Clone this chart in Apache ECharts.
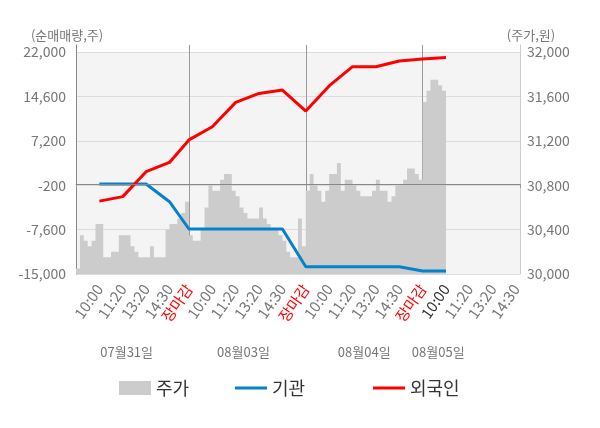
<!DOCTYPE html>
<html>
<head>
<meta charset="utf-8">
<title>순매매량 / 주가</title>
<script src="https://cdn.jsdelivr.net/npm/echarts@6.0.0/dist/echarts.min.js"></script>
<style>
    html, body { margin: 0; padding: 0; background: #fff; }
    #main { width: 600px; height: 428px; }
</style>
</head>
<body>
<div id="main"></div>
<script>
// 일자 / 일자별 슬롯 수 (마지막 슬롯 = 장마감)
var days = ['07월31일', '08월03일', '08월04일', '08월05일'];
var daySlots = [30, 30, 30, 25];
var dateSlots = [13, 43, 74, 93];

// x축 시간 눈금
var tickSlots = [6, 12, 18, 24, 29, 35, 41, 47, 53, 59, 65, 71, 77, 83, 89, 95, 101, 107, 113];
var tickNames = ['10:00', '11:20', '13:20', '14:30', '장마감',
                 '10:00', '11:20', '13:20', '14:30', '장마감',
                 '10:00', '11:20', '13:20', '14:30', '장마감',
                 '10:00', '11:20', '13:20', '14:30'];

// y축 눈금
var leftTicks = [-15000, -7600, -200, 7200, 14600, 22000];
var rightTicks = [30000, 30400, 30800, 31200, 31600, 32000];

// 주가 (원)
var price1 = [30250, 30050, 30350, 30300, 30250, 30300, 30450, 30450, 30150, 30150,
              30200, 30200, 30350, 30350, 30350, 30250, 30200, 30150, 30150, 30150,
              30250, 30150, 30150, 30150, 30400, 30450, 30450, 30500, 30550, 30650];
var price2 = [30350, 30300, 30300, 30400, 30600, 30800, 30750, 30750, 30850, 30900,
              30900, 30750, 30700, 30600, 30550, 30500, 30500, 30500, 30600, 30500,
              30450, 30400, 30400, 30350, 30300, 30200, 30150, 30150, 30500, 30250];
var price3 = [30750, 30900, 30800, 30750, 30650, 30750, 30900, 30900, 31000, 30750,
              30850, 30850, 30800, 30750, 30700, 30700, 30700, 30750, 30850, 30750,
              30750, 30650, 30700, 30800, 30800, 30850, 30950, 30950, 30900, 30850];
var price4 = [31550, 31650, 31750, 31750, 31700, 31650];

// 누적 순매매량 (주) - 시간 눈금 위치별
var flowSlots = [6, 12, 18, 24, 29, 35, 41, 47, 53, 59, 65, 71, 77, 83, 89, 95];
var inst = [0, 0, 0, -2950, -7500, -7500, -7500, -7500, -7500,
            -13800, -13800, -13800, -13800, -13800, -14500, -14500];
var foreign = [-2850, -2100, 2050, 3600, 7350, 9550, 13600, 15100, 15650,
               12150, 16350, 19550, 19550, 20500, 20850, 21100];

var cats = [];
days.forEach(function (d, i) {
    for (var k = 0; k < daySlots[i]; k++) {
        cats.push(d + ' ' + k);
    }
});

var dayEnds = [0];
var acc = 0;
daySlots.forEach(function (n) {
    acc += n;
    dayEnds.push(acc - 1);
});

var price = price1.concat(price2, price3, price4);
var nowSlot = price.length - 1;

function onSlots(vals) {
    var arr = [];
    for (var i = 0; i < cats.length; i++) arr.push(null);
    flowSlots.forEach(function (s, i) { arr[s] = vals[i]; });
    return arr;
}

var labelAt = {};
tickSlots.forEach(function (s, i) { labelAt[s] = tickNames[i]; });

// 위쪽 7px 여백 (세로 구분선이 배경 위로 조금 나옴)
var padPx = 7, plotPx = 222;
var leftMax = 22000 + (22000 + 15000) * padPx / plotPx;
var rightMax = 32000 + (32000 - 30000) * padPx / plotPx;

function fmt(v) {
    return Math.round(v).toLocaleString('en-US');
}

var myChart = echarts.init(document.getElementById('main'));

var option = {
    animation: false,
    textStyle: {
        fontFamily: '"Noto Sans CJK KR", "Noto Sans", sans-serif'
    },
    grid: {
        left: 76,
        right: 80,
        top: 45,
        bottom: 154,
        containLabel: false,
        outerBoundsMode: 'none'
    },
    legend: [
        {data: ['주가'], left: 114, top: 374, icon: 'rect', itemWidth: 32, itemHeight: 14,
            itemStyle: {borderWidth: 0}, selectedMode: false,
            textStyle: {fontSize: 18, color: '#333'}},
        {data: ['기관'], left: 230, top: 374, icon: 'rect', itemWidth: 32, itemHeight: 3,
            itemStyle: {borderWidth: 0}, selectedMode: false,
            textStyle: {fontSize: 18, color: '#333'}},
        {data: ['외국인'], left: 368, top: 374, icon: 'rect', itemWidth: 32, itemHeight: 3,
            itemStyle: {borderWidth: 0}, selectedMode: false,
            textStyle: {fontSize: 18, color: '#333'}}
    ],
    xAxis: [
        {
            type: 'category',
            data: cats,
            boundaryGap: false,
            axisLine: {lineStyle: {color: '#999'}},
            axisTick: {
                show: true,
                length: 4,
                interval: function (idx) { return dayEnds.indexOf(idx) >= 0; },
                lineStyle: {color: '#999'}
            },
            splitLine: {
                show: true,
                interval: function (idx) { return idx > 0 && idx < cats.length - 1 && dayEnds.indexOf(idx) >= 0; },
                lineStyle: {color: '#999', width: 1}
            },
            axisLabel: {
                interval: function (idx) { return labelAt[idx] !== undefined; },
                rotate: 55,
                margin: 12,
                fontSize: 15,
                color: '#777',
                formatter: function (val, idx) {
                    var t = labelAt[idx];
                    if (t === undefined) return '';
                    if (t === '장마감') return '{r|' + t + '}';
                    if (idx === nowSlot) return '{d|' + t + '}';
                    return t;
                },
                rich: {
                    r: {color: '#ff0000', fontSize: 15},
                    d: {color: '#333', fontSize: 15}
                }
            }
        },
        {
            type: 'category',
            data: cats,
            boundaryGap: false,
            position: 'bottom',
            offset: 64,
            axisLine: {show: false},
            axisTick: {show: false},
            splitLine: {show: false},
            axisLabel: {
                interval: function (idx) { return dateSlots.indexOf(idx) >= 0; },
                margin: 8,
                fontSize: 13,
                color: '#777',
                formatter: function (val, idx) {
                    var k = dateSlots.indexOf(idx);
                    return k >= 0 ? days[k] : '';
                }
            }
        }
    ],
    yAxis: [
        {
            type: 'value',
            position: 'left',
            min: -15000,
            max: leftMax,
            name: '(순매매량,주)',
            nameLocation: 'end',
            nameGap: 3,
            nameTextStyle: {color: '#777', fontSize: 13, padding: [0, 18, 0, 0]},
            axisLine: {show: true, lineStyle: {color: '#888'}},
            axisTick: {show: false, customValues: leftTicks},
            axisLabel: {customValues: leftTicks, color: '#777', fontSize: 14, margin: 10, formatter: fmt},
            splitLine: {show: true, lineStyle: {color: '#dcdcdc', width: 1}},
            splitArea: {show: true, areaStyle: {color: ['#f4f4f4']}}
        },
        {
            type: 'value',
            position: 'right',
            min: 30000,
            max: rightMax,
            name: '(주가,원)',
            nameLocation: 'end',
            nameGap: 3,
            nameTextStyle: {color: '#777', fontSize: 13, padding: [0, 0, 0, 22]},
            axisLine: {show: true, lineStyle: {color: '#ccc'}},
            axisTick: {show: false, customValues: rightTicks},
            axisLabel: {customValues: rightTicks, color: '#777', fontSize: 14, margin: 7, formatter: fmt},
            splitLine: {show: false}
        }
    ],
    series: [
        {
            name: '주가',
            type: 'line',
            xAxisIndex: 0,
            yAxisIndex: 1,
            data: price,
            step: 'start',
            symbol: 'none',
            lineStyle: {width: 0},
            itemStyle: {color: '#cccccc'},
            areaStyle: {color: '#cccccc', opacity: 1, origin: 'start'}
        },
        {
            name: '기관',
            type: 'line',
            xAxisIndex: 0,
            yAxisIndex: 0,
            data: onSlots(inst),
            connectNulls: true,
            symbol: 'none',
            lineStyle: {width: 3, color: '#0582ca'},
            itemStyle: {color: '#0582ca'},
            markLine: {
                silent: true,
                symbol: ['none', 'none'],
                label: {show: false},
                lineStyle: {color: '#888', type: 'solid', width: 1},
                data: [{yAxis: 0}]
            }
        },
        {
            name: '외국인',
            type: 'line',
            xAxisIndex: 0,
            yAxisIndex: 0,
            data: onSlots(foreign),
            connectNulls: true,
            symbol: 'none',
            lineStyle: {width: 3, color: '#ff0000'},
            itemStyle: {color: '#ff0000'}
        }
    ]
};

myChart.setOption(option);
</script>
</body>
</html>
